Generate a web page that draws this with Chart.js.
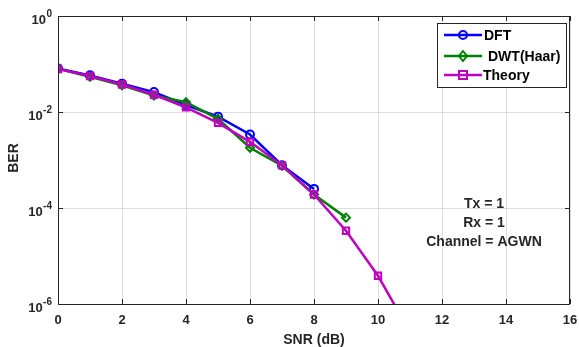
<!DOCTYPE html>
<html>
<head>
<meta charset="utf-8">
<script src="https://cdn.jsdelivr.net/npm/chart.js@4"></script>
<style>
  html, body { margin: 0; padding: 0; background: #fff; }
  #wrap { width: 579px; height: 347px; position: relative; }
</style>
</head>
<body>
<div id="wrap"><canvas id="ber-chart" width="579" height="347"></canvas></div>
<script>
// ---- data ----
const snrDft = [0, 1, 2, 3, 4, 5, 6, 7, 8];
const berDft = [0.081, 0.058, 0.039, 0.026, 0.014, 0.0080, 0.0034, 0.00078, 0.00025];

const snrDwt = [0, 1, 2, 3, 4, 5, 6, 7, 8, 9];
const berDwt = [0.080, 0.054, 0.036, 0.022, 0.016, 0.0072, 0.0018, 0.00076, 0.00019, 0.000063];

const snrTheory = [0, 1, 2, 3, 4, 5, 6, 7, 8, 9, 10, 11];
const berTheory = [0.0786, 0.0563, 0.0375, 0.0229, 0.0125, 0.00595, 0.00239, 0.000773, 0.000191, 0.0000336, 0.00000387, 0.000000261];

const xTicks = [0, 2, 4, 6, 8, 10, 12, 14, 16];
const yExponents = [0, -2, -4, -6];
const notes = ['Tx = 1', 'Rx = 1', 'Channel = AGWN'];

const FONT = '"Liberation Sans", Arial, sans-serif';
const TEXT = '#262626';
const BLUE = '#0000ff';
const GREEN = '#008000';
const MAGENTA = '#c000c0';

const toPoints = (xs, ys) => xs.map((x, i) => ({ x, y: ys[i] }));

function drawMarker(ctx, style, x, y, color) {
  ctx.save();
  ctx.strokeStyle = color;
  ctx.lineWidth = 2;
  ctx.beginPath();
  if (style === 'circle') {
    ctx.arc(x, y, 4, 0, Math.PI * 2);
  } else if (style === 'rectRot') {
    ctx.moveTo(x, y - 5); ctx.lineTo(x + 4, y); ctx.lineTo(x, y + 5); ctx.lineTo(x - 4, y); ctx.closePath();
  } else {
    ctx.rect(x - 4, y - 4, 8, 8);
  }
  ctx.stroke();
  ctx.restore();
}

const decorations = {
  id: 'decorations',
  afterDraw(chart) {
    const { ctx, chartArea: a, scales } = chart;
    const xs = scales.x, ys = scales.y;
    ctx.save();

    // box + inside ticks
    ctx.strokeStyle = '#262626';
    ctx.lineWidth = 1;
    ctx.strokeRect(a.left + 0.5, a.top + 0.5, a.right - a.left - 1, a.bottom - a.top);
    ctx.beginPath();
    xTicks.forEach(t => {
      const px = Math.round(xs.getPixelForValue(t)) + 0.5;
      ctx.moveTo(px, a.bottom); ctx.lineTo(px, a.bottom - 5);
      ctx.moveTo(px, a.top); ctx.lineTo(px, a.top + 5);
    });
    yExponents.forEach(e => {
      const py = Math.round(ys.getPixelForValue(Math.pow(10, e))) + 0.5;
      ctx.moveTo(a.left, py); ctx.lineTo(a.left + 5, py);
      ctx.moveTo(a.right, py); ctx.lineTo(a.right - 5, py);
    });
    ctx.stroke();

    // x tick labels
    ctx.fillStyle = TEXT;
    ctx.font = `bold 13px ${FONT}`;
    ctx.textAlign = 'center';
    ctx.textBaseline = 'middle';
    xTicks.forEach(t => ctx.fillText(String(t), xs.getPixelForValue(t), a.bottom + 16));

    // y tick labels as 10^e
    yExponents.forEach(e => {
      const py = ys.getPixelForValue(Math.pow(10, e));
      const sup = String(e);
      ctx.font = `bold 10px ${FONT}`;
      const supW = ctx.measureText(sup).width;
      const right = a.left - 6;
      ctx.font = `bold 13px ${FONT}`;
      ctx.textAlign = 'right';
      ctx.textBaseline = 'middle';
      ctx.fillText('10', right - supW - 0.5, py + 4);
      ctx.font = `bold 10px ${FONT}`;
      ctx.textAlign = 'left';
      ctx.fillText(sup, right - supW, py - 2);
    });

    // axis titles
    ctx.font = `bold 14px ${FONT}`;
    ctx.textAlign = 'center';
    ctx.textBaseline = 'middle';
    ctx.fillText('SNR (dB)', (a.left + a.right) / 2, 340);
    ctx.save();
    ctx.translate(14, 158);
    ctx.rotate(-Math.PI / 2);
    ctx.fillText('BER', 0, 0);
    ctx.restore();

    // notes
    notes.forEach((n, i) => ctx.fillText(n, 484, 204 + i * 19));

    // legend
    const lx = 437, ly = 23, lw = 129, lh = 64;
    ctx.fillStyle = '#fff';
    ctx.fillRect(lx, ly, lw, lh);
    ctx.strokeStyle = '#262626';
    ctx.strokeRect(lx + 0.5, ly + 0.5, lw, lh);
    const entries = [
      { label: 'DFT', color: BLUE, style: 'circle', y: 35, tx: 484 },
      { label: 'DWT(Haar)', color: GREEN, style: 'rectRot', y: 56, tx: 488 },
      { label: 'Theory', color: MAGENTA, style: 'rect', y: 75, tx: 483 }
    ];
    ctx.font = `bold 14px ${FONT}`;
    ctx.textAlign = 'left';
    entries.forEach(en => {
      ctx.strokeStyle = en.color;
      ctx.lineWidth = 2.5;
      ctx.beginPath();
      ctx.moveTo(444, en.y); ctx.lineTo(482, en.y);
      ctx.stroke();
      drawMarker(ctx, en.style, 463, en.y, en.color);
      ctx.fillStyle = '#000';
      ctx.fillText(en.label, en.tx, en.y + 1);
    });

    ctx.restore();
  }
};

function makeSet(label, xs, ys, color, style, order) {
  return {
    label,
    data: toPoints(xs, ys),
    borderColor: color,
    backgroundColor: 'rgba(0,0,0,0)',
    borderWidth: 2.5,
    pointStyle: style,
    pointRadius: style === 'rect' ? 4.5 : 4,
    pointBorderWidth: 2,
    pointBorderColor: color,
    pointBackgroundColor: 'rgba(0,0,0,0)',
    tension: 0,
    order
  };
}

new Chart(document.getElementById('ber-chart'), {
  type: 'line',
  data: {
    datasets: [
      makeSet('DFT', snrDft, berDft, BLUE, 'circle', 3),
      makeSet('DWT(Haar)', snrDwt, berDwt, GREEN, 'rectRot', 2),
      makeSet('Theory', snrTheory, berTheory, MAGENTA, 'rect', 1)
    ]
  },
  options: {
    responsive: false,
    animation: false,
    layout: { padding: { left: 0, top: 16, right: 9, bottom: 0 } },
    plugins: { legend: { display: false }, tooltip: { enabled: false } },
    scales: {
      x: {
        type: 'linear',
        min: 0, max: 16,
        afterBuildTicks: s => { s.ticks = xTicks.map(v => ({ value: v })); },
        afterFit: s => { s.height = 43; },
        ticks: { display: false },
        border: { display: false },
        grid: { color: '#dedede', lineWidth: 1, drawTicks: false }
      },
      y: {
        type: 'logarithmic',
        min: 1e-6, max: 1,
        afterBuildTicks: s => { s.ticks = yExponents.map(e => ({ value: Math.pow(10, e) })); },
        afterFit: s => { s.width = 58; },
        ticks: { display: false },
        border: { display: false },
        grid: { color: '#dedede', lineWidth: 1, drawTicks: false }
      }
    }
  },
  plugins: [decorations]
});
</script>
</body>
</html>
